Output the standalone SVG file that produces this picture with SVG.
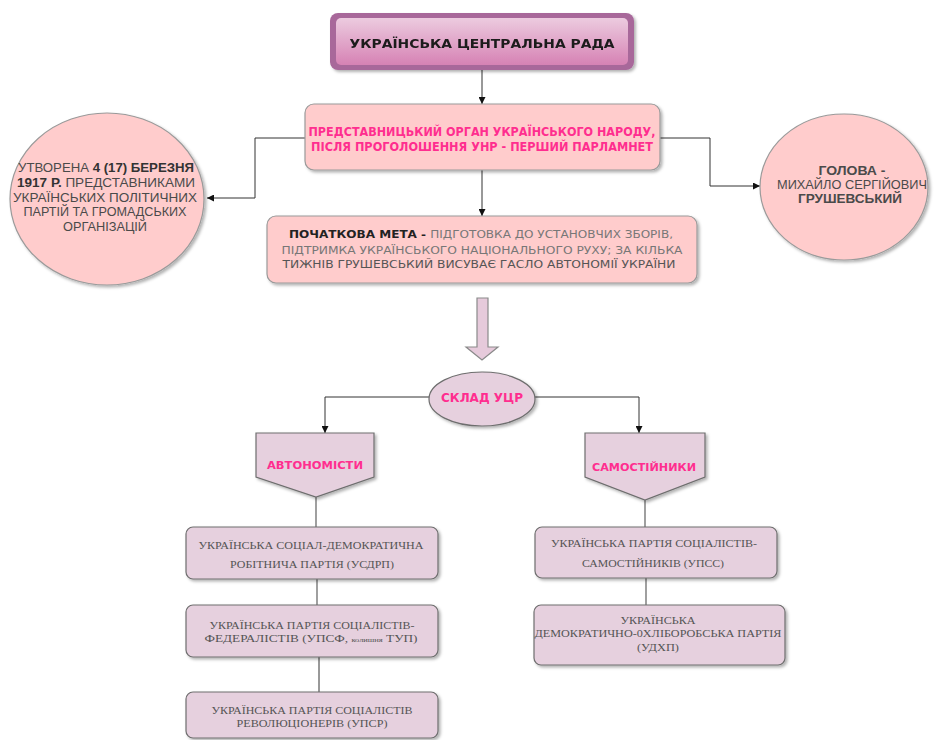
<svg xmlns="http://www.w3.org/2000/svg" width="938" height="740" viewBox="0 0 938 740">
<defs>
<linearGradient id="gTop" x1="0" y1="0" x2="0" y2="1">
<stop offset="0" stop-color="#eccbdf"/>
<stop offset="1" stop-color="#d682b4"/>
</linearGradient>
<filter id="sh" x="-10%" y="-10%" width="125%" height="130%">
<feDropShadow dx="2" dy="2" stdDeviation="1.5" flood-color="#000" flood-opacity="0.3"/>
</filter>
<marker id="ah" viewBox="0 0 10 10" refX="10" refY="5" markerWidth="7" markerHeight="7" orient="auto" markerUnits="userSpaceOnUse">
<path d="M0,0 L10,5 L0,10 z" fill="#111"/>
</marker>
<style>
.pink{fill:#ffcccc;stroke:#9a9a9a;stroke-width:1.2}
.lil{fill:#e6d0de;stroke:#6e6e6e;stroke-width:1.2}
.con{fill:none;stroke:#333;stroke-width:1}
.conG{fill:none;stroke:#777;stroke-width:1.4}
.comic{font-family:"DejaVu Sans",sans-serif;font-weight:bold}
.mag{fill:#ff2e8f}
.ar{font-family:"Liberation Sans",Arial,sans-serif;fill:#4a4a4a;font-size:12.5px}
.serif{font-family:"Liberation Serif","Times New Roman",serif;fill:#555;font-size:11px}
.mid{text-anchor:middle}
</style>
</defs>
<rect width="938" height="740" fill="#ffffff"/>

<g id="connectors">
<line class="con" x1="482" y1="70" x2="482" y2="104" marker-end="url(#ah)"/>
<polyline class="con" points="305,138 255,138 255,198 207,198" marker-end="url(#ah)"/>
<polyline class="con" points="660,138 710,138 710,186 760,186" marker-end="url(#ah)"/>
<line class="con" x1="482" y1="170" x2="482" y2="216" marker-end="url(#ah)"/>
<polyline class="con" points="429,397 325,397 325,433" marker-end="url(#ah)"/>
<polyline class="con" points="535,397 639,397 639,433" marker-end="url(#ah)"/>
<line class="conG" x1="316" y1="497" x2="316" y2="527"/>
<line class="conG" x1="317" y1="579" x2="317" y2="605"/>
<line class="con" x1="319" y1="657" x2="319" y2="692"/>
<line class="conG" x1="645" y1="500" x2="645" y2="527"/>
<line class="conG" x1="646" y1="578" x2="646" y2="605"/>
</g>

<g id="n-title" filter="url(#sh)">
<rect x="330" y="13" width="304" height="57" rx="8" fill="#a8679a"/>
<rect x="336" y="18" width="292" height="47" rx="5" fill="url(#gTop)"/>
<text class="comic mid" x="482" y="48" font-size="13" fill="#1a1a1a" textLength="265" lengthAdjust="spacingAndGlyphs">УКРАЇНСЬКА ЦЕНТРАЛЬНА РАДА</text>
</g>

<g id="n-organ">
<rect class="pink" x="305" y="104" width="355" height="66" rx="9" filter="url(#sh)"/>
<text class="comic mid mag" x="482" y="136" font-size="12" textLength="347" lengthAdjust="spacingAndGlyphs">ПРЕДСТАВНИЦЬКИЙ ОРГАН УКРАЇНСЬКОГО НАРОДУ,</text>
<text class="comic mid mag" x="482" y="151" font-size="12" textLength="342" lengthAdjust="spacingAndGlyphs">ПІСЛЯ ПРОГОЛОШЕННЯ УНР - ПЕРШИЙ ПАРЛАМНЕТ</text>
</g>

<g id="n-created">
<ellipse class="pink" cx="107" cy="199" rx="97" ry="86" filter="url(#sh)"/>
<text class="ar mid" x="106" y="172" textLength="176" lengthAdjust="spacingAndGlyphs">УТВОРЕНА <tspan font-weight="bold" fill="#333">4 (17) БЕРЕЗНЯ</tspan></text>
<text class="ar mid" x="106" y="187" textLength="178" lengthAdjust="spacingAndGlyphs"><tspan font-weight="bold" fill="#333">1917 Р.</tspan> ПРЕДСТАВНИКАМИ</text>
<text class="ar mid" x="105" y="201.5" textLength="184" lengthAdjust="spacingAndGlyphs">УКРАЇНСЬКИХ ПОЛІТИЧНИХ</text>
<text class="ar mid" x="105" y="216" textLength="163" lengthAdjust="spacingAndGlyphs">ПАРТІЙ ТА ГРОМАДСЬКИХ</text>
<text class="ar mid" x="105" y="230.5" textLength="84" lengthAdjust="spacingAndGlyphs">ОРГАНІЗАЦІЙ</text>
</g>

<g id="n-head">
<ellipse class="pink" cx="844" cy="187" rx="84" ry="73" filter="url(#sh)"/>
<text class="ar mid" x="852" y="175" font-size="12" font-weight="bold" fill="#444" textLength="67" lengthAdjust="spacingAndGlyphs">ГОЛОВА -</text>
<text class="ar mid" x="852" y="189" font-size="12" textLength="150" lengthAdjust="spacingAndGlyphs">МИХАЙЛО СЕРГІЙОВИЧ</text>
<text class="ar mid" x="850" y="203" font-size="12" font-weight="bold" fill="#333" textLength="104" lengthAdjust="spacingAndGlyphs">ГРУШЕВСЬКИЙ</text>
</g>

<g id="n-goal">
<rect class="pink" x="267" y="216" width="430" height="67" rx="9" filter="url(#sh)"/>
<text class="mid" x="481" y="238" font-family="DejaVu Sans, sans-serif" font-size="10.5" fill="#777" textLength="384" lengthAdjust="spacingAndGlyphs"><tspan font-weight="bold" fill="#222">ПОЧАТКОВА МЕТА - </tspan>ПІДГОТОВКА ДО УСТАНОВЧИХ ЗБОРІВ,</text>
<text class="mid" x="482" y="254" font-family="DejaVu Sans, sans-serif" font-size="10.5" fill="#777" textLength="401" lengthAdjust="spacingAndGlyphs">ПІДТРИМКА УКРАЇНСЬКОГО НАЦІОНАЛЬНОГО РУХУ; ЗА КІЛЬКА</text>
<text class="mid" x="479" y="268" font-family="DejaVu Sans, sans-serif" font-size="10.5" fill="#555" textLength="393" lengthAdjust="spacingAndGlyphs">ТИЖНІВ ГРУШЕВСЬКИЙ ВИСУВАЄ ГАСЛО АВТОНОМІЇ УКРАЇНИ</text>
</g>

<g id="n-bigarrow">
<polygon points="477,298 488,298 488,347 498,347 482,360 466,347 477,347" fill="#e6cadb" stroke="#8a8a8a" stroke-width="1.2"/>
</g>

<g id="n-sklad">
<ellipse cx="482" cy="399" rx="53" ry="27" fill="#e6d0de" stroke="#6e6e6e" stroke-width="1.2" filter="url(#sh)"/>
<text class="comic mid mag" x="482" y="402" font-size="12" textLength="82" lengthAdjust="spacingAndGlyphs">СКЛАД УЦР</text>
</g>

<g id="n-autonom">
<polygon class="lil" points="256,433 374,433 374,477 316,497 256,477" filter="url(#sh)"/>
<text class="comic mid mag" x="315" y="469" font-size="11" textLength="96" lengthAdjust="spacingAndGlyphs">АВТОНОМІСТИ</text>
</g>

<g id="n-samost">
<polygon class="lil" points="585,433 705,433 705,477 645,500 585,477" filter="url(#sh)"/>
<text class="comic mid mag" x="644" y="471" font-size="11" textLength="104" lengthAdjust="spacingAndGlyphs">САМОСТІЙНИКИ</text>
</g>

<g id="n-usdrp">
<rect class="lil" x="186" y="527" width="252" height="52" rx="7" filter="url(#sh)"/>
<text class="serif mid" x="311" y="549" textLength="225" lengthAdjust="spacingAndGlyphs">УКРАЇНСЬКА СОЦІАЛ-ДЕМОКРАТИЧНА</text>
<text class="serif mid" x="312" y="568" textLength="164" lengthAdjust="spacingAndGlyphs">РОБІТНИЧА ПАРТІЯ (УСДРП)</text>
</g>

<g id="n-upsf">
<rect class="lil" x="186" y="605" width="252" height="52" rx="7" filter="url(#sh)"/>
<text class="serif mid" x="312" y="629" textLength="205" lengthAdjust="spacingAndGlyphs">УКРАЇНСЬКА ПАРТІЯ СОЦІАЛІСТІВ-</text>
<text class="serif mid" x="311" y="642" textLength="213" lengthAdjust="spacingAndGlyphs">ФЕДЕРАЛІСТІВ (УПСФ, <tspan font-size="7">колишня</tspan>  ТУП)</text>
</g>

<g id="n-upsr">
<rect class="lil" x="186" y="692" width="252" height="46" rx="7" filter="url(#sh)"/>
<text class="serif mid" x="312" y="714" textLength="201" lengthAdjust="spacingAndGlyphs">УКРАЇНСЬКА ПАРТІЯ СОЦІАЛІСТІВ</text>
<text class="serif mid" x="312" y="727" textLength="151" lengthAdjust="spacingAndGlyphs">РЕВОЛЮЦІОНЕРІВ (УПСР)</text>
</g>

<g id="n-upss">
<rect class="lil" x="535" y="527" width="242" height="51" rx="7" filter="url(#sh)"/>
<text class="serif mid" x="654" y="547" textLength="206" lengthAdjust="spacingAndGlyphs">УКРАЇНСЬКА ПАРТІЯ СОЦІАЛІСТІВ-</text>
<text class="serif mid" x="653" y="567" textLength="142" lengthAdjust="spacingAndGlyphs">САМОСТІЙНИКІВ (УПСС)</text>
</g>

<g id="n-udkhp">
<rect class="lil" x="534" y="605" width="251" height="60" rx="7" filter="url(#sh)"/>
<text class="serif mid" x="658" y="624" textLength="75" lengthAdjust="spacingAndGlyphs">УКРАЇНСЬКА</text>
<text class="serif mid" x="658" y="637" textLength="247" lengthAdjust="spacingAndGlyphs">ДЕМОКРАТИЧНО-0ХЛІБОРОБСЬКА ПАРТІЯ</text>
<text class="serif mid" x="658" y="651" textLength="42" lengthAdjust="spacingAndGlyphs">(УДХП)</text>
</g>
</svg>
